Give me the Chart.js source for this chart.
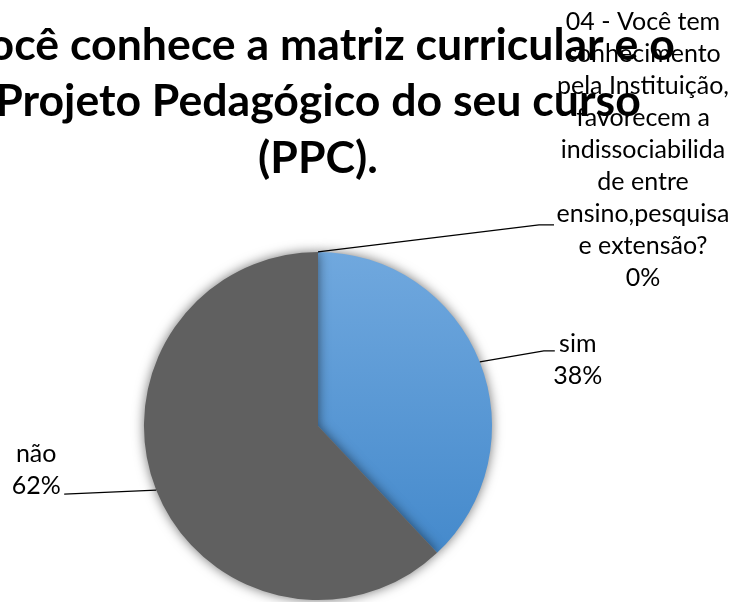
<!DOCTYPE html>
<html>
<head>
<meta charset="utf-8">
<script src="https://cdn.jsdelivr.net/npm/chart.js@4.4.1/dist/chart.umd.min.js"></script>
<style>
html, body { margin: 0; padding: 0; background: #fff; overflow: hidden; }
/* canvas starts left of the page so the wide title can be cut off on the left like the original */
#wrap { width: 793px; height: 602px; position: absolute; left: -60px; top: 0; }
</style>
</head>
<body>
<div id="wrap"><canvas id="pieChart"></canvas></div>
<script>
const titleLines = ['Você conhece a matriz curricular e o', 'Projeto Pedagógico do seu curso', '(PPC).'];

// slice names, already broken into lines the way the original shows them
const categories = [
    ['04 - Você tem', 'conhecimento', 'pela Instituição,', 'favorecem a', 'indissociabilida', 'de entre', 'ensino,pesquisa', 'e extensão?'],
    ['sim'],
    ['não']
];
const values = [0, 38, 62];

const blueTop = '#70a8de';
const blueBottom = '#3e85c9';
const greyFill = '#606060';

// where each label sits relative to the middle of its slice edge
const labelSpots = [
    { elbow: [221, -27], hook: 15, text: [325, -222] },
    { elbow: [64, -11], hook: 11, text: [98, -10] },
    { elbow: [-92, 4], hook: 0, text: [-120, -28] }
];

Chart.defaults.font.family = 'Lato';

const pieDecor = {
    id: 'pieDecor',
    beforeDatasetsDraw(chart) {
        const ctx = chart.ctx;
        ctx.save();
        ctx.shadowColor = 'rgba(0,0,0,0.55)';
        ctx.shadowBlur = 12;
    },
    afterDatasetsDraw(chart) {
        const ctx = chart.ctx;
        ctx.restore();
        const meta = chart.getDatasetMeta(0);
        const total = values.reduce((a, b) => a + b, 0);
        ctx.save();
        ctx.font = '25px Lato';
        ctx.fillStyle = '#000';
        ctx.strokeStyle = '#000';
        ctx.lineWidth = 1.3;
        ctx.textAlign = 'center';
        ctx.textBaseline = 'alphabetic';
        meta.data.forEach((arc, i) => {
            const p = arc.getProps(['x', 'y', 'startAngle', 'endAngle', 'outerRadius'], true);
            const mid = (p.startAngle + p.endAngle) / 2;
            const ax = p.x + Math.cos(mid) * p.outerRadius;
            const ay = p.y + Math.sin(mid) * p.outerRadius;
            const s = labelSpots[i];
            const ex = ax + s.elbow[0], ey = ay + s.elbow[1];
            ctx.beginPath();
            ctx.moveTo(ax, ay);
            ctx.lineTo(ex, ey);
            ctx.lineTo(ex + s.hook, ey);
            ctx.stroke();
            const lines = categories[i].concat(Math.round(values[i] / total * 100) + '%');
            lines.forEach((t, k) => ctx.fillText(t, ax + s.text[0], ay + s.text[1] + k * 32));
        });
        ctx.restore();
    }
};

const ctx = document.getElementById('pieChart').getContext('2d');
new Chart(ctx, {
    type: 'pie',
    data: {
        labels: categories,
        datasets: [{
            data: values,
            backgroundColor: function(context) {
                if (context.dataIndex !== 1) return greyFill;
                const area = context.chart.chartArea;
                if (!area) return blueTop;
                const g = context.chart.ctx.createLinearGradient(0, area.top, 0, area.bottom);
                g.addColorStop(0, blueTop);
                g.addColorStop(1, blueBottom);
                return g;
            },
            borderWidth: 0,
            hoverOffset: 0,
            clip: false
        }]
    },
    options: {
        responsive: true,
        maintainAspectRatio: false,
        animation: false,
        layout: {
            padding: { left: 0, right: 37, top: 0, bottom: 2 }
        },
        plugins: {
            legend: { display: false },
            tooltip: { enabled: false },
            title: {
                display: true,
                text: titleLines,
                color: '#000',
                font: { size: 44.6, weight: 'bold', lineHeight: 1.27 },
                padding: { top: 17, bottom: 65 }
            }
        }
    },
    plugins: [pieDecor]
});
</script>
</body>
</html>
